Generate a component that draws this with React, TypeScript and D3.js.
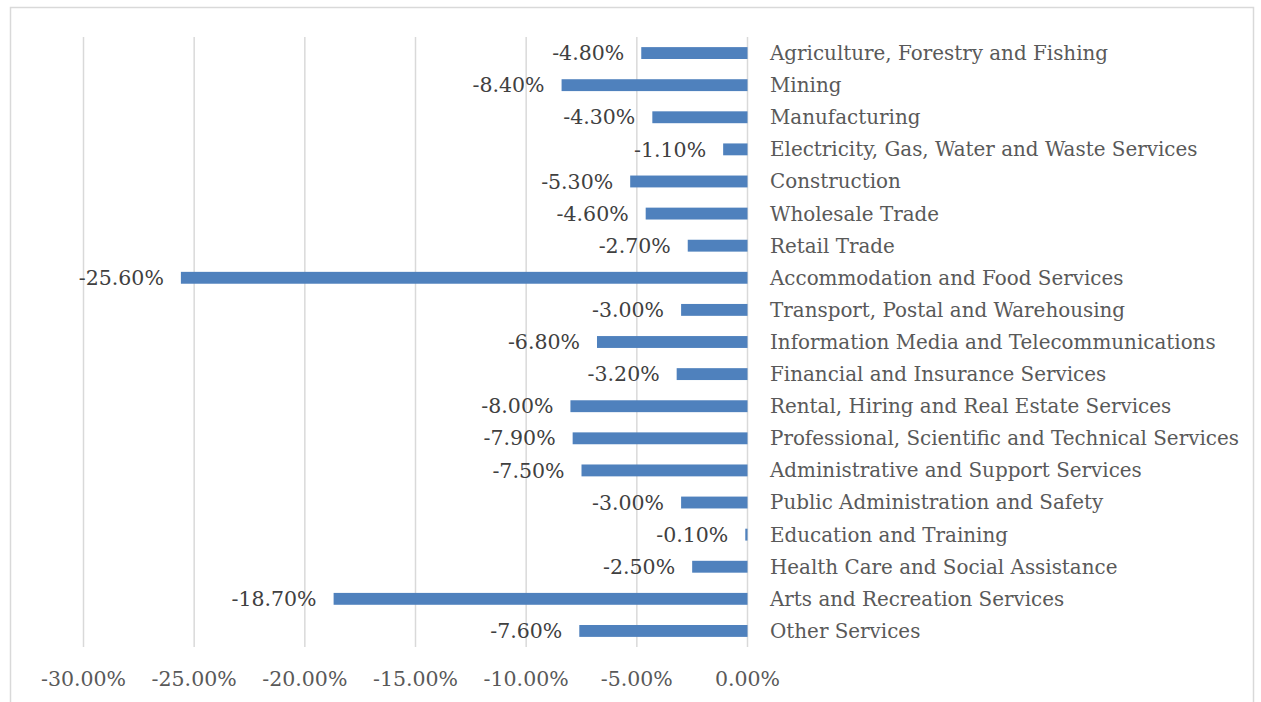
import React from "react";
import * as d3 from "d3";

const categories = [
  "Agriculture, Forestry and Fishing",
  "Mining",
  "Manufacturing",
  "Electricity, Gas, Water and Waste Services",
  "Construction",
  "Wholesale Trade",
  "Retail Trade",
  "Accommodation and Food Services",
  "Transport, Postal and Warehousing",
  "Information Media and Telecommunications",
  "Financial and Insurance Services",
  "Rental, Hiring and Real Estate Services",
  "Professional, Scientific and Technical Services",
  "Administrative and Support Services",
  "Public Administration and Safety",
  "Education and Training",
  "Health Care and Social Assistance",
  "Arts and Recreation Services",
  "Other Services",
];

const values = [
  -4.8, -8.4, -4.3, -1.1, -5.3, -4.6, -2.7, -25.6, -3.0, -6.8, -3.2, -8.0, -7.9,
  -7.5, -3.0, -0.1, -2.5, -18.7, -7.6,
];

const ticks = [-30, -25, -20, -15, -10, -5, 0];

const W = 1261;
const H = 702;
const FONT = "'DejaVu Serif', serif";

export default function App() {
  const x = d3.scaleLinear().domain([-30, 0]).range([83.5, 747.5]);
  const y = d3
    .scaleBand<string>()
    .domain(categories)
    .range([37, 647])
    .paddingInner(0.63)
    .paddingOuter(0.315);
  const fmt = (v: number) => v.toFixed(2) + "%";
  return (
    <svg
      width={W}
      height={H}
      style={{ position: "absolute", left: 0, top: 0 }}
    >
      <rect x={0} y={0} width={W} height={H} fill="#fff" />
      <rect
        x={10.5}
        y={7.5}
        width={1243}
        height={720}
        fill="#fff"
        stroke="#D9D9D9"
        strokeWidth={1.5}
      />
      {ticks.map((t) => (
        <line
          key={t}
          x1={x(t)}
          x2={x(t)}
          y1={37}
          y2={647}
          stroke="#D9D9D9"
          strokeWidth={1.5}
        />
      ))}
      {categories.map((c, i) => {
        const v = values[i];
        const yy = y(c)!;
        return (
          <g key={c}>
            <rect
              x={x(v)}
              y={yy}
              width={x(0) - x(v)}
              height={y.bandwidth()}
              fill="#4F81BD"
            />
            <text
              x={x(v) - 17}
              y={yy + y.bandwidth() / 2}
              dy="0.35em"
              textAnchor="end"
              fontFamily={FONT}
              fontSize={20.5}
              fill="#404040"
            >
              {fmt(v)}
            </text>
            <text
              x={770}
              y={yy + y.bandwidth() / 2}
              dy="0.35em"
              fontFamily={FONT}
              fontSize={19.9}
              fill="#595959"
            >
              {c}
            </text>
          </g>
        );
      })}
      {ticks.map((t) => (
        <text
          key={"l" + t}
          x={x(t)}
          y={679}
          dy="0.35em"
          textAnchor="middle"
          fontFamily={FONT}
          fontSize={20.5}
          fill="#595959"
        >
          {fmt(t)}
        </text>
      ))}
    </svg>
  );
}
